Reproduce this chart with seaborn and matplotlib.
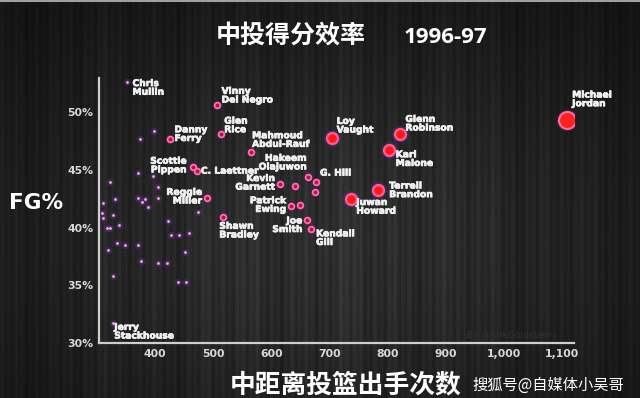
import numpy as np
import pandas as pd
import matplotlib
matplotlib.use('Agg')
import matplotlib.pyplot as plt
import matplotlib.patheffects as pe
import seaborn as sns
from matplotlib.ticker import FuncFormatter, FixedLocator

# rest of the league (small dots, unlabeled)
other_attempts = [398, 374, 371, 397, 323, 406, 311, 331, 371, 383, 377, 388, 406, 308, 311,
                  328, 338, 317, 323, 422, 474, 334, 348, 370, 320, 427, 442, 458, 451, 376,
                  405, 420, 327, 440, 453]
other_fg = [48.4, 47.7, 44.7, 44.5, 44.0, 43.5, 42.1, 42.5, 42.6, 42.5, 42.2, 41.8, 42.55, 41.3, 40.8,
            41.1, 40.2, 40.0, 40.0, 40.6, 41.4, 38.7, 38.5, 38.5, 38.1, 39.4, 39.4, 39.5, 37.9, 37.1,
            36.9, 36.9, 35.8, 35.25, 35.25]

# labeled small dots
dot_players = ['Chris Mullin', 'Jerry Stackhouse']
dot_attempts = [351, 327]
dot_fg = [52.6, 31.7]

# ring markers
ring_players = ['Vinny Del Negro', 'Glen Rice', 'Danny Ferry', 'Mahmoud Abdul-Rauf', 'Scottie Pippen',
                'C. Laettner', 'Kevin Garnett', 'Hakeem Olajuwon', 'G. Hill', '', '', 'Patrick Ewing', '',
                'Joe Smith', 'Kendall Gill', 'Shawn Bradley', 'Reggie Miller']
ring_attempts = [506, 514, 425, 566, 465, 473, 615, 641, 677, 664, 675, 634, 649, 662, 668, 517, 489]
ring_fg = [50.6, 48.1, 47.7, 46.6, 45.3, 44.9, 43.8, 43.6, 44.0, 44.4, 43.1, 41.9, 42.0, 40.7, 39.9,
           40.9, 42.6]

# big markers
star_players = ['Loy Vaught', 'Glenn Robinson', 'Karl Malone', 'Terrell Brandon', 'Juwan Howard',
                'Michael Jordan']
star_attempts = [704, 821, 802, 783, 737, 1108]
star_fg = [47.8, 48.1, 46.7, 43.3, 42.5, 49.3]

x_ticks = [400, 500, 600, 700, 800, 900, 1000, 1100]
y_ticks = [30, 35, 40, 45, 50]

# label offsets in pixels: dx, dy (down), alignment
label_pos = {
    'Chris Mullin': (6, 5.6, 'left'),
    'Vinny Del Negro': (5, -9.7, 'left'),
    'Glen Rice': (3, -8.8, 'left'),
    'Danny Ferry': (5, -4.7, 'left'),
    'Mahmoud Abdul-Rauf': (0.6, -11.5, 'left'),
    'Loy Vaught': (5, -12, 'left'),
    'Scottie Pippen': (-6.3, -1, 'right'),
    'C. Laettner': (3.5, 0, 'left'),
    'Hakeem Olajuwon': (11.5, -23.5, 'right'),
    'Kevin Garnett': (-5, -1, 'right'),
    'G. Hill': (4, -8.4, 'left'),
    'Patrick Ewing': (-5, -0.7, 'right'),
    'Joe Smith': (-5, 5.6, 'right'),
    'Kendall Gill': (5.3, 9.3, 'left'),
    'Shawn Bradley': (-3.7, 13.3, 'left'),
    'Reggie Miller': (-4.7, -1, 'right'),
    'Juwan Howard': (5.4, 8, 'left'),
    'Terrell Brandon': (11.6, 0.7, 'left'),
    'Karl Malone': (7, 8.7, 'left'),
    'Glenn Robinson': (5.7, -10.5, 'left'),
    'Michael Jordan': (5.6, -21, 'left'),
    'Jerry Stackhouse': (1.7, 8.2, 'left'),
}
one_line = {'C. Laettner', 'G. Hill'}

sns.set_theme(style='ticks')
plt.rcParams['font.family'] = ['DejaVu Sans']

others = pd.DataFrame({'attempts': other_attempts + dot_attempts, 'fg': other_fg + dot_fg})
rings = pd.DataFrame({'player': ring_players, 'attempts': ring_attempts, 'fg': ring_fg})
stars = pd.DataFrame({'player': star_players, 'attempts': star_attempts, 'fg': star_fg})
mj = stars['player'] == 'Michael Jordan'

fig = plt.figure(figsize=(6.4, 3.98), dpi=100)

# textured dark background
bg = fig.add_axes([0, 0, 1, 1])
h, w = 398, 640
yy, xx = np.mgrid[0:h, 0:w]
glow = np.exp(-(((xx - 320) / 340.0) ** 2 + ((yy - 240) / 230.0) ** 2))
streak = (0.5 * np.sin(xx * 0.91) + 0.35 * np.sin(xx * 0.37 + 1.0) + 0.25 * np.sin(xx * 2.3 + 2.0)
          + 0.3 * np.sin(xx * 0.13 + 0.5) + 0.2 * np.sin(xx * 0.053 + 2.2))
tex = 0.06 + 0.12 * glow + 0.028 * streak * (0.4 + glow)
bg.imshow(np.clip(tex, 0, 1), cmap='gray', vmin=0, vmax=1, aspect='auto', extent=[0, 1, 0, 1],
          interpolation='bilinear')
bg.axhline(0.997, color='#a0a0a0', lw=1.5)
bg.set_xlim(0, 1)
bg.set_ylim(0, 1)
bg.axis('off')

ax = fig.add_axes([0.1547, 0.138, 0.742, 0.666])
ax.set_facecolor('none')

# rest of league
sns.scatterplot(data=others, x='attempts', y='fg', s=26, color='#6a2a86', alpha=0.45,
                linewidth=0, ax=ax)
sns.scatterplot(data=others, x='attempts', y='fg', s=4, color='#f0b0e4', linewidth=0, ax=ax)

# ring players
sns.scatterplot(data=rings, x='attempts', y='fg', s=55, color='#4a1c6a', alpha=0.45,
                linewidth=0, ax=ax)
sns.scatterplot(data=rings, x='attempts', y='fg', s=17, color='#b8104a', edgecolor='#ff70a4',
                linewidth=1.3, ax=ax)

# big ones
sns.scatterplot(data=stars[~mj], x='attempts', y='fg', s=150, color='#4a2c9c', alpha=0.45,
                linewidth=0, ax=ax)
sns.scatterplot(data=stars[~mj], x='attempts', y='fg', s=62, color='#ff1818', edgecolor='#ff5a8c',
                linewidth=1.7, ax=ax)
sns.scatterplot(data=stars[mj], x='attempts', y='fg', s=250, color='#5a2470', alpha=0.45,
                linewidth=0, ax=ax)
sns.scatterplot(data=stars[mj], x='attempts', y='fg', s=150, color='#ff2020', edgecolor='#ff6c90',
                linewidth=1.5, ax=ax)

bold_fx = [pe.withStroke(linewidth=0.5, foreground='#f2f2f2')]
names = list(zip(dot_players, dot_attempts, dot_fg)) + list(zip(ring_players, ring_attempts, ring_fg)) \
    + list(zip(star_players, star_attempts, star_fg))
for name, xv, yv in names:
    if not name:
        continue
    dx, dy, ha = label_pos[name]
    txt = name if name in one_line else name.replace(' ', '\n', 1)
    ax.annotate(txt, (xv, yv), xytext=(dx, -dy), textcoords='offset pixels', ha=ha, va='center',
                fontsize=6.6, fontweight='bold', color='#f2f2f2', linespacing=0.95,
                path_effects=bold_fx)

ax.set_xlim(303.7, 1120.7)
ax.set_ylim(30, 52.97)
ax.xaxis.set_major_locator(FixedLocator(x_ticks))
ax.yaxis.set_major_locator(FixedLocator(y_ticks))
ax.xaxis.set_major_formatter(FuncFormatter(lambda v, p: f'{int(v):,}'))
ax.yaxis.set_major_formatter(FuncFormatter(lambda v, p: f'{int(v)}%'))
ax.tick_params(length=0, colors='#d8d8d8', labelsize=7.8, pad=4)
for lab in ax.get_xticklabels() + ax.get_yticklabels():
    lab.set_fontweight('semibold')
ax.set_xlabel('')
ax.set_ylabel('')
sns.despine(ax=ax)
for side in ['left', 'bottom']:
    ax.spines[side].set_color('#cfcfcf')
    ax.spines[side].set_linewidth(1.6)

ax.text(0.965, 0.03, 'By @KirkGoldsberry', transform=ax.transAxes, ha='right', va='center',
        fontsize=6.5, color='#323232')

cjk = ['Noto Sans CJK SC', 'DejaVu Sans']
fig.text(0.455, 0.9095, '中投得分效率', ha='center', va='center', fontsize=18, fontweight='bold',
         color='white', family=cjk)
fig.text(0.696, 0.907, '1996-97', ha='center', va='center', fontsize=16, fontweight='bold',
         color='white', family=['Open Sans', 'DejaVu Sans'])
fig.text(0.0563, 0.491, 'FG%', ha='center', va='center', fontsize=15.5, fontweight='bold',
         color='white')
fig.text(0.5406, 0.0327, '中距离投篮出手次数', ha='center', va='center', fontsize=18.5,
         fontweight='bold', color='white', family=cjk)
fig.text(0.856, 0.031, '搜狐号@自媒体小吴哥', ha='center', va='center', fontsize=11,
         color='white', family=cjk)

fig.savefig('out.png', dpi=100)
